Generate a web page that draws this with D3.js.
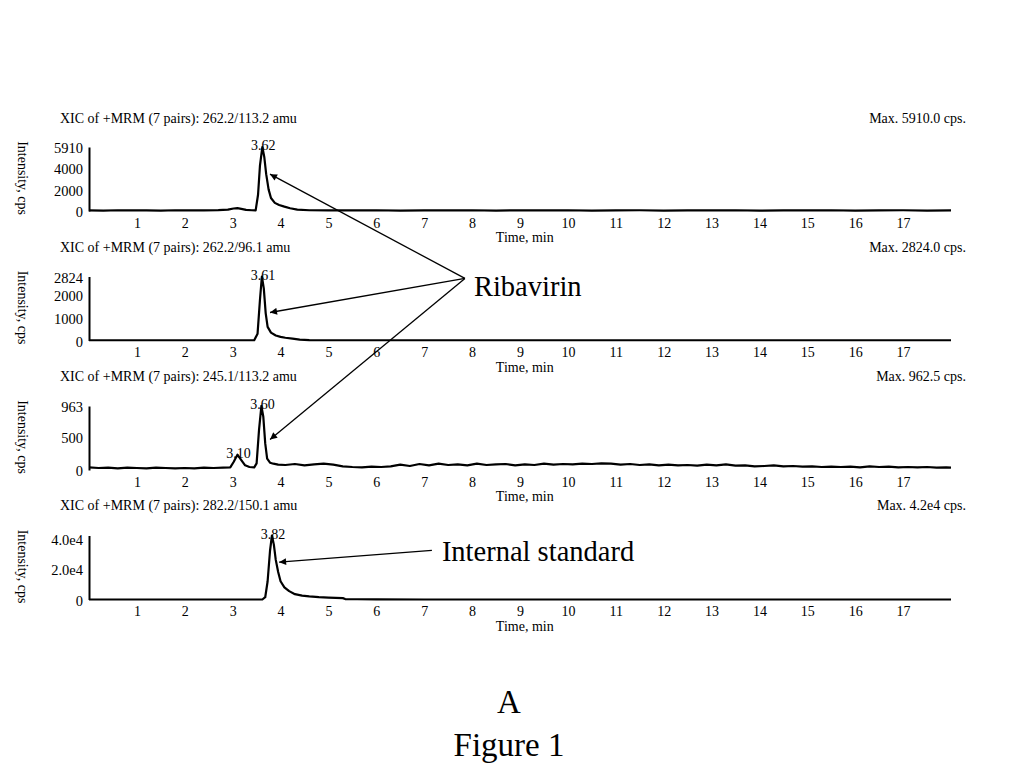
<!DOCTYPE html>
<html>
<head>
<meta charset="utf-8">
<script src="https://cdn.jsdelivr.net/npm/d3@7"></script>
<style>
  body { margin: 0; background: #fff; }
  svg { display: block; }
  text { font-family: "Liberation Serif", "Times New Roman", serif; fill: #000; }
</style>
</head>
<body>
<div id="canvas"></div>
<script>
// chromatogram data (time in min, intensity in cps)
let xic1T = [0, 0.3, 0.6, 0.9, 1.2, 1.5, 1.8, 2.1, 2.4, 2.7, 2.9, 3.02, 3.1, 3.18, 3.28, 3.4, 3.48, 3.53, 3.57, 3.62, 3.66, 3.7, 3.75, 3.8, 3.88, 3.97, 4.08, 4.2, 4.35, 4.6, 5.0, 5.5, 6.0, 6.5, 7.0, 7.5, 8.0, 8.5, 9.0, 9.5, 10, 10.5, 11, 11.5, 12, 12.5, 13, 13.5, 14, 14.5, 15, 15.5, 16, 16.5, 17, 17.5, 18];
let xic1Y = [60, 40, 70, 50, 60, 40, 70, 50, 60, 80, 120, 230, 260, 200, 100, 70, 60, 1500, 4200, 5910, 5000, 3400, 2000, 1200, 750, 550, 400, 250, 120, 70, 60, 50, 70, 40, 60, 50, 70, 40, 60, 50, 70, 40, 60, 70, 40, 60, 50, 70, 40, 60, 50, 70, 40, 60, 70, 40, 50];

let xic2T = [0, 1, 2, 3, 3.45, 3.52, 3.57, 3.61, 3.65, 3.69, 3.73, 3.8, 3.9, 4.0, 4.1, 4.25, 4.4, 4.6, 5, 6, 8, 10, 12, 14, 16, 18];
let xic2Y = [10, 12, 10, 12, 10, 300, 1800, 2824, 2300, 1200, 600, 350, 220, 160, 120, 80, 40, 15, 10, 10, 10, 10, 10, 10, 10, 10];

let xic3T = [0, 0.2, 0.4, 0.6, 0.8, 1.0, 1.2, 1.4, 1.6, 1.8, 2.0, 2.2, 2.4, 2.6, 2.8, 2.95, 3.02, 3.1, 3.18, 3.26, 3.35, 3.45, 3.5, 3.55, 3.6, 3.64, 3.68, 3.72, 3.78, 3.85, 3.95, 4.1, 4.3, 4.5, 4.7, 4.9, 5.1, 5.3, 5.5, 5.7, 5.9, 6.1, 6.3, 6.5, 6.7, 6.9, 7.1, 7.3, 7.5, 7.7, 7.9, 8.1, 8.3, 8.5, 8.7, 8.9, 9.1, 9.3, 9.5, 9.7, 9.9, 10.1, 10.3, 10.5, 10.7, 10.9, 11.1, 11.3, 11.5, 11.7, 11.9, 12.1, 12.3, 12.5, 12.7, 12.9, 13.1, 13.3, 13.5, 13.7, 13.9, 14.1, 14.3, 14.5, 14.7, 14.9, 15.1, 15.3, 15.5, 15.7, 15.9, 16.1, 16.3, 16.5, 16.7, 16.9, 17.1, 17.3, 17.5, 17.7, 17.9, 18];
let xic3Y = [40, 30, 35, 25, 35, 30, 25, 35, 30, 25, 30, 25, 35, 30, 35, 40, 120, 230, 150, 70, 45, 40, 100, 600, 963, 800, 400, 170, 110, 95, 80, 75, 90, 70, 85, 95, 80, 55, 45, 40, 50, 45, 55, 80, 60, 90, 70, 95, 75, 85, 70, 95, 75, 85, 90, 70, 85, 75, 95, 80, 90, 85, 95, 90, 100, 95, 80, 90, 75, 85, 70, 80, 70, 75, 65, 80, 70, 85, 65, 70, 55, 60, 70, 55, 60, 50, 55, 45, 50, 45, 50, 40, 55, 45, 50, 40, 45, 40, 45, 35, 40, 35];

let xic4T = [0, 3.0, 3.62, 3.68, 3.73, 3.78, 3.82, 3.86, 3.9, 3.95, 4.0, 4.08, 4.18, 4.3, 4.45, 4.6, 4.8, 5.0, 5.3, 5.35, 5.6, 6.0, 7, 18];
let xic4Y = [0, 0, 0, 1500, 12000, 32000, 42000, 36000, 26000, 18000, 12000, 8000, 5500, 3500, 2500, 2000, 1500, 1200, 900, 300, 150, 50, 0, 0];

let panelTitles = ["XIC of +MRM (7 pairs): 262.2/113.2 amu", "XIC of +MRM (7 pairs): 262.2/96.1 amu",
  "XIC of +MRM (7 pairs): 245.1/113.2 amu", "XIC of +MRM (7 pairs): 282.2/150.1 amu"];
let maxLabels = ["Max. 5910.0 cps.", "Max. 2824.0 cps.", "Max. 962.5 cps.", "Max. 4.2e4 cps."];
let yMax = [5910, 2824, 962.5, 42000];
let yTicks = [[0, 2000, 4000, 5910], [0, 1000, 2000, 2824], [0, 500, 962.5], [0, 20000, 40000]];
let yTickLabels = [["0", "2000", "4000", "5910"], ["0", "1000", "2000", "2824"], ["0", "500", "963"], ["0", "2.0e4", "4.0e4"]];
let xTicks = d3.range(1, 18);
// peak apex labels: [panel, time, intensity, label]
let peakLabels = [[0, 3.62, 5910, "3.62"], [1, 3.61, 2824, "3.61"], [2, 3.60, 963, "3.60"], [2, 3.10, 230, "3.10"], [3, 3.82, 42000, "3.82"]];

let series = [[xic1T, xic1Y], [xic2T, xic2Y], [xic3T, xic3Y], [xic4T, xic4Y]];

let width = 1024;
let height = 768;
let step = 129.5;
let fs = "14px";

let svg = d3.select("#canvas")
  .append("svg")
  .attr("width", width)
  .attr("height", height);

svg.append("defs").append("marker")
  .attr("id", "head")
  .attr("viewBox", "0 0 10 10")
  .attr("refX", 10)
  .attr("refY", 5)
  .attr("markerWidth", 11)
  .attr("markerHeight", 7)
  .attr("markerUnits", "userSpaceOnUse")
  .attr("orient", "auto")
  .append("path")
  .attr("d", "M0,0L10,5L0,10Z")
  .attr("fill", "#000");

let x = d3.scaleLinear().domain([0, 18]).range([89, 951]);

let yScales = [];

series.forEach((s, i) => {
  let top = 147 + i * step;
  let bottom = 211 + i * step;
  let y = d3.scaleLinear().domain([0, yMax[i]]).range([bottom, top]);
  yScales.push(y);

  let g = svg.append("g");

  g.append("text")
    .attr("x", 60)
    .attr("y", 123 + i * 129)
    .attr("font-size", fs)
    .text(panelTitles[i]);
  g.append("text")
    .attr("x", 966)
    .attr("y", 123 + i * 129)
    .attr("text-anchor", "end")
    .attr("font-size", fs)
    .text(maxLabels[i]);

  let cy = 178 + i * step;
  g.append("text")
    .attr("transform", "translate(18," + cy + ") rotate(90)")
    .attr("text-anchor", "middle")
    .attr("font-size", fs)
    .text("Intensity, cps");

  // y axis
  let ejeY = d3.axisLeft(y)
    .tickValues(yTicks[i])
    .tickFormat((d, k) => yTickLabels[i][k])
    .tickSize(0)
    .tickSizeOuter(0)
    .tickPadding(6);
  let gy = g.append("g")
    .attr("transform", "translate(" + x(0) + ",0)")
    .call(ejeY);
  gy.select(".domain").attr("stroke", "#000").attr("stroke-width", 2);
  gy.selectAll("text").attr("font-family", "Liberation Serif").attr("font-size", "14.5px").attr("dy", "0.4em");

  // x axis (labels only)
  let ejeX = d3.axisBottom(x)
    .tickValues(xTicks)
    .tickSize(0)
    .tickPadding(7);
  let gx = g.append("g")
    .attr("transform", "translate(0," + bottom + ")")
    .call(ejeX);
  gx.select(".domain").remove();
  gx.selectAll("text").attr("font-family", "Liberation Serif").attr("font-size", fs);

  g.append("text")
    .attr("x", x(9.1))
    .attr("y", bottom + 31)
    .attr("text-anchor", "middle")
    .attr("font-size", fs)
    .text("Time, min");

  let pts = s[0].map((t, k) => [t, s[1][k]]);
  g.append("path")
    .datum(pts)
    .attr("fill", "none")
    .attr("stroke", "#000")
    .attr("stroke-width", 2.2)
    .attr("stroke-linejoin", "round")
    .attr("d", d3.line().x(d => x(d[0])).y(d => y(d[1])));
});

peakLabels.forEach(p => {
  svg.append("text")
    .attr("x", x(p[1]) + 1)
    .attr("y", yScales[p[0]](p[2]) + 3)
    .attr("text-anchor", "middle")
    .attr("font-size", fs)
    .text(p[3]);
});

// annotations: origin and arrow tips, in panel data coordinates
let ribOrigin = [1, 7.85, 2740];
let ribTips = [[0, 3.78, 3400], [1, 3.78, 1235], [2, 3.78, 460]];
let isOrigin = [3, 7.16, 32300];
let isTip = [3, 3.97, 24500];

let pos = a => [x(a[1]), yScales[a[0]](a[2])];

ribTips.forEach(tip => {
  let o = pos(ribOrigin), e = pos(tip);
  svg.append("line")
    .attr("x1", o[0]).attr("y1", o[1])
    .attr("x2", e[0]).attr("y2", e[1])
    .attr("stroke", "#000")
    .attr("stroke-width", 1.3)
    .attr("marker-end", "url(#head)");
});
let ro = pos(ribOrigin);
svg.append("text")
  .attr("x", ro[0] + 9)
  .attr("y", ro[1] + 18)
  .attr("font-size", "28.5px")
  .text("Ribavirin");

let io = pos(isOrigin), ie = pos(isTip);
svg.append("line")
  .attr("x1", io[0]).attr("y1", io[1])
  .attr("x2", ie[0]).attr("y2", ie[1])
  .attr("stroke", "#000")
  .attr("stroke-width", 1.3)
  .attr("marker-end", "url(#head)");
svg.append("text")
  .attr("x", io[0] + 10)
  .attr("y", io[1] + 11)
  .attr("font-size", "28.5px")
  .text("Internal standard");

svg.append("text")
  .attr("x", 509)
  .attr("y", 713)
  .attr("text-anchor", "middle")
  .attr("font-size", "33px")
  .text("A");
svg.append("text")
  .attr("x", 509)
  .attr("y", 756)
  .attr("text-anchor", "middle")
  .attr("font-size", "33px")
  .text("Figure 1");
</script>
</body>
</html>
